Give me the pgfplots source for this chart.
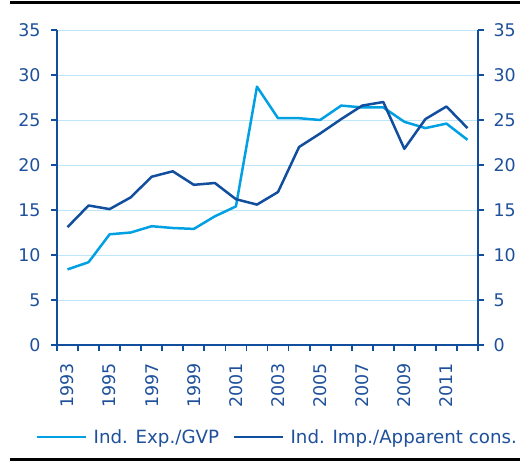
\documentclass[border=0pt]{standalone}
\usepackage{fontspec}
\setmainfont{DejaVu Sans}
\usepackage{pgfplots}
\pgfplotsset{compat=1.18}
\definecolor{lb}{RGB}{0,160,227}
\definecolor{db}{RGB}{18,78,158}
\definecolor{txt}{RGB}{30,80,155}
\definecolor{gridc}{RGB}{190,230,248}
\begin{document}
\begin{tikzpicture}[x=1bp,y=1bp]
\useasboundingbox (0,0) rectangle (520,-461);
\draw[line width=3bp] (10,-3) -- (520,-3);
\draw[line width=3bp] (10,-459) -- (520,-459);
\begin{axis}[
  at={(57bp,-345bp)}, anchor=south west,
  scale only axis, width=421bp, height=315bp,
  xmin=1992.5, xmax=2012.5, ymin=0, ymax=35,
  /pgf/number format/assume math mode=true,
  axis x line*=bottom, axis y line*=left,
  axis line style={db, line width=2.2bp},
  tick align=outside,
  major tick length=6bp,
  tick style={db, line width=1.8bp},
  xtick={1992.5,1993.5,...,2012.5}, xticklabels={},
  extra x ticks={1993,1995,...,2011},
  extra x tick style={major tick length=0pt, grid=none},
  extra x tick labels={1993,1995,1997,1999,2001,2003,2005,2007,2009,2011},
  xticklabel style={yshift=-15bp, rotate=90, anchor=east, text=txt, font=\fontsize{17.5}{20}\selectfont},
  ytick={0,5,...,35},
  yticklabel style={text=txt, font=\fontsize{17.5}{20}\selectfont, xshift=-7bp},
  ymajorgrids, major grid style={gridc, line width=1bp},
  legend columns=2,
  legend style={at={(-0.05,-0.292)}, anchor=west, draw=none, fill=none, inner sep=0pt,
    font=\fontsize{18.3}{20}\selectfont, text=txt,
    /tikz/every odd column/.append style={column sep=4bp},
    /tikz/every even column/.append style={column sep=12bp}},
  legend image code/.code={\draw[#1] (0bp,0bp) -- (49bp,0bp);},
  every axis plot/.append style={line width=2.5bp, line join=round},
]
\addplot[lb, mark=none] coordinates {
(1993,8.4) (1994,9.2) (1995,12.3) (1996,12.5) (1997,13.2) (1998,13.0) (1999,12.9)
(2000,14.3) (2001,15.4) (2002,28.7) (2003,25.2) (2004,25.2) (2005,25.0) (2006,26.6)
(2007,26.4) (2008,26.4) (2009,24.8) (2010,24.1) (2011,24.6) (2012,22.8)};
\addlegendentry{Ind. Exp./GVP}
\addplot[db, mark=none] coordinates {
(1993,13.1) (1994,15.5) (1995,15.1) (1996,16.4) (1997,18.7) (1998,19.3) (1999,17.8)
(2000,18.0) (2001,16.2) (2002,15.6) (2003,17.0) (2004,22.0) (2005,23.5) (2006,25.1)
(2007,26.6) (2008,27.0) (2009,21.8) (2010,25.1) (2011,26.5) (2012,24.1)};
\addlegendentry{Ind. Imp./Apparent cons.}
\end{axis}
\begin{axis}[
  at={(57bp,-345bp)}, anchor=south west,
  scale only axis, width=421bp, height=315bp,
  xmin=1992.5, xmax=2012.5, ymin=0, ymax=35,
  /pgf/number format/assume math mode=true,
  axis x line=none, axis y line*=right,
  axis line style={db, line width=2.2bp},
  tick align=outside,
  major tick length=6bp,
  tick style={db, line width=1.8bp},
  ytick={0,5,...,35},
  yticklabel style={text=txt, font=\fontsize{17.5}{20}\selectfont, anchor=west, xshift=6bp},
]
\addplot[draw=none] coordinates {(1993,0)};
\end{axis}
\end{tikzpicture}
\end{document}
